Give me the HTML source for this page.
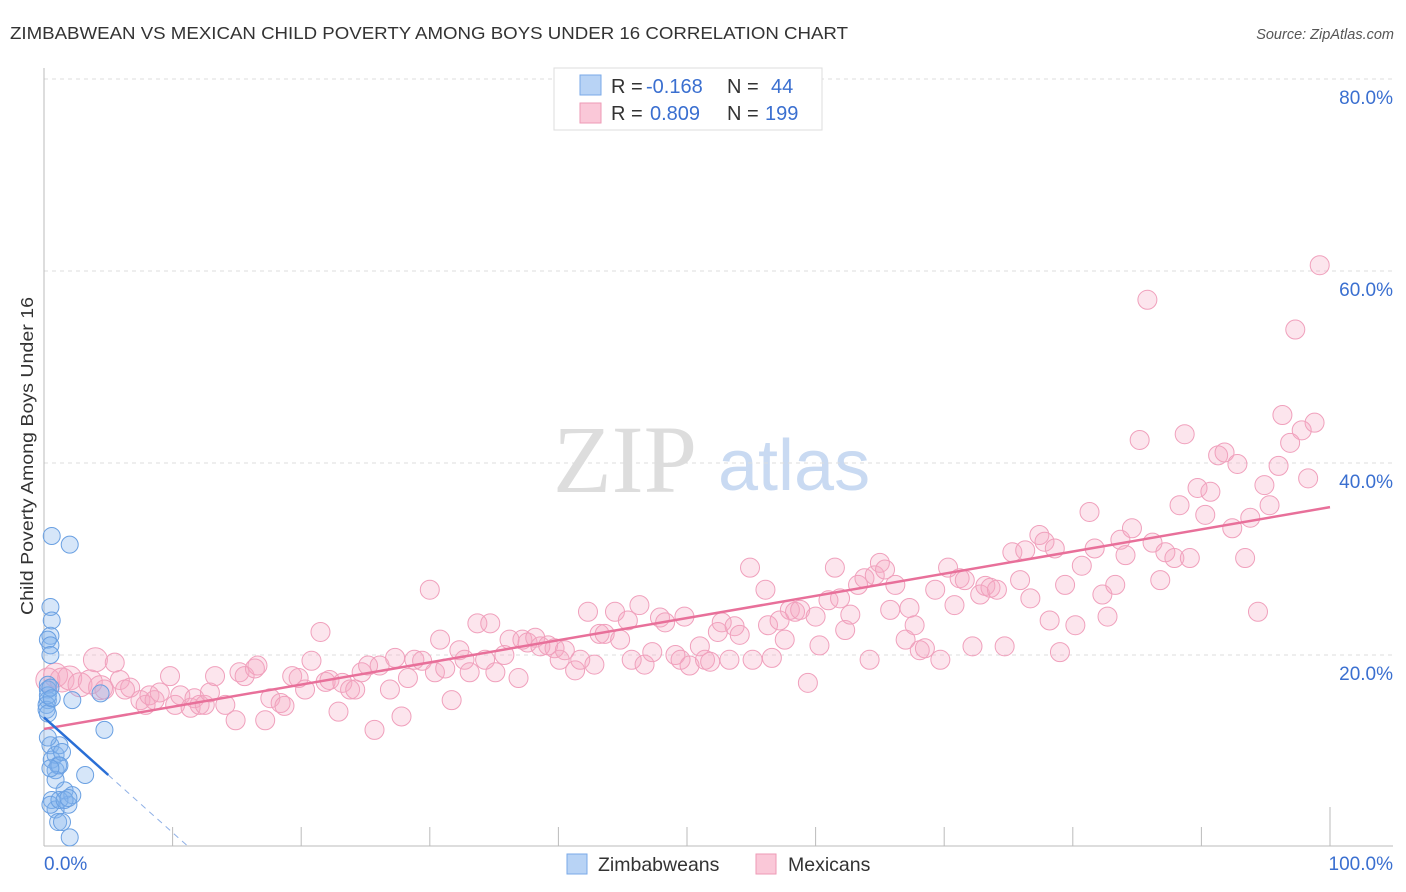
<!DOCTYPE html>
<html><head><meta charset="utf-8"><style>
body{margin:0;background:#fff;font-family:"Liberation Sans",sans-serif}
svg{display:block}
</style></head><body>
<svg id="chart" width="1406" height="892" viewBox="0 0 1406 892" font-family="Liberation Sans, sans-serif">
<text x="10" y="39" font-size="17.5" fill="#333" textLength="838" lengthAdjust="spacingAndGlyphs">ZIMBABWEAN VS MEXICAN CHILD POVERTY AMONG BOYS UNDER 16 CORRELATION CHART</text>
<text x="1394" y="39" font-size="14.5" fill="#555" font-style="italic" text-anchor="end">Source: ZipAtlas.com</text>
<g>
<text x="553" y="492" font-size="96" font-family="Liberation Serif, serif" fill="#ddd">ZIP</text>
<text x="718" y="490" font-size="72" fill="#c9daf2">atlas</text>
</g>
<g id="grid"></g>
<g id="axes"></g>
<text transform="translate(33,456) rotate(-90)" font-size="17.5" fill="#333" text-anchor="middle" textLength="318" lengthAdjust="spacingAndGlyphs">Child Poverty Among Boys Under 16</text>
<g id="marks"></g>
<g>
<rect x="554" y="68" width="268" height="62" fill="#fff" stroke="#ddd"/>
<rect x="580" y="75" width="21" height="20" fill="#b8d3f5" stroke="#7aaae8"/>
<rect x="580" y="103" width="21" height="20" fill="#fac8d8" stroke="#ee9ab6"/>
<text x="611" y="93" font-size="20" fill="#333">R = <tspan x="646" fill="#3a6fd0">-0.168</tspan><tspan x="727">N = </tspan><tspan x="771" fill="#3a6fd0">44</tspan></text>
<text x="611" y="120" font-size="20" fill="#333">R = <tspan x="650" fill="#3a6fd0">0.809</tspan><tspan x="727">N = </tspan><tspan x="765" fill="#3a6fd0">199</tspan></text>
</g>
<g>
<rect x="567" y="854" width="20" height="20" fill="#b8d3f5" stroke="#7aaae8"/>
<text x="598" y="871" font-size="19.5" fill="#333">Zimbabweans</text>
<rect x="756" y="854" width="20" height="20" fill="#fac8d8" stroke="#ee9ab6"/>
<text x="788" y="871" font-size="19.5" fill="#333">Mexicans</text>
</g>
</svg>
<script>
const yTicks=[20,40,60,80];
const yTickLabels=["20.0%","40.0%","60.0%","80.0%"];
const xTicks=[10,20,30,40,50,60,70,80,90,100];
const xEndLabels=["0.0%","100.0%"];
const pinkX=[0.3,0.9,1.4,2.0,2.8,3.6,4.0,4.4,4.7,5.5,5.9,6.3,6.7,7.5,7.9,8.2,8.6,9.0,9.8,10.2,10.6,11.4,11.7,12.1,12.5,12.9,13.3,14.1,14.9,15.2,15.6,16.4,16.6,17.2,17.6,18.4,18.7,19.3,19.8,20.3,20.8,21.5,21.9,22.2,22.9,23.2,23.8,24.2,24.7,25.2,25.7,26.1,26.9,27.3,27.8,28.3,28.8,29.4,30.0,30.4,30.8,31.2,31.7,32.3,32.7,33.1,33.7,34.3,34.7,35.1,35.8,36.2,36.9,37.2,37.6,38.2,38.6,39.2,39.7,40.1,40.5,41.3,41.7,42.3,42.8,43.2,43.6,44.4,44.8,45.4,45.7,46.3,46.7,47.3,47.9,48.3,49.1,49.5,49.8,50.2,51.0,51.4,51.8,52.4,52.7,53.3,53.7,54.1,54.9,55.1,56.1,56.3,56.6,57.2,57.6,58.0,58.4,58.8,59.4,60.0,60.3,61.0,61.5,61.9,62.3,62.7,63.3,63.8,64.2,64.6,65.0,65.4,65.8,66.2,67.0,67.3,67.7,68.1,68.5,69.3,69.7,70.3,70.8,71.2,71.6,72.2,72.8,73.2,73.6,74.1,74.7,75.3,75.9,76.3,76.7,77.4,77.8,78.2,78.6,79.0,79.4,80.2,80.7,81.3,81.7,82.3,82.7,83.3,83.7,84.1,84.6,85.2,85.8,86.2,86.8,87.2,87.9,88.3,88.7,89.1,89.7,90.3,90.7,91.3,91.8,92.4,92.8,93.4,93.8,94.4,94.9,95.3,96.0,96.3,96.9,97.3,97.8,98.3,98.8,99.2];
const pinkY=[17.4,17.9,17.4,17.6,16.9,17.2,19.5,16.6,16.4,19.2,17.4,16.4,16.6,15.3,14.8,15.8,15.3,16.1,17.8,14.8,15.8,14.5,15.5,14.8,14.8,16.1,17.8,14.8,13.2,18.2,17.8,18.6,18.9,13.2,15.5,15.0,14.7,17.8,17.6,16.4,19.4,22.4,17.2,17.4,14.1,17.1,16.4,16.4,18.2,18.9,12.2,18.9,16.4,19.7,13.6,17.6,19.5,19.4,26.8,18.2,21.6,18.6,15.3,20.5,19.5,18.2,23.3,19.5,23.3,18.2,20.0,21.6,17.6,21.6,21.3,21.8,20.9,21.0,20.7,19.5,20.5,18.4,19.5,24.5,19.0,22.2,22.2,24.5,21.6,23.6,19.5,25.2,19.0,20.3,23.9,23.4,20.0,19.5,24.0,18.9,20.9,19.5,19.3,22.4,23.4,19.5,23.0,22.1,29.1,19.5,26.8,23.1,19.7,23.6,21.6,24.7,24.5,24.7,17.1,24.0,21.0,25.7,29.1,25.9,22.6,24.2,27.3,28.0,19.5,28.3,29.6,28.9,24.7,27.3,21.6,24.9,23.1,20.5,20.7,26.8,19.5,29.1,25.2,28.0,27.8,20.9,26.3,27.2,27.0,26.8,20.9,30.7,27.8,30.9,25.9,32.5,31.8,23.6,31.1,20.3,27.3,23.1,29.3,34.9,31.1,26.3,24.0,27.3,32.0,30.4,33.2,42.4,57.0,31.7,27.8,30.7,30.1,35.6,43.0,30.1,37.4,34.6,37.0,40.8,41.1,33.2,39.9,30.1,34.3,24.5,37.7,35.6,39.7,45.0,42.1,53.9,43.4,38.4,44.2,60.6];
const blueX=[0.3,0.3,0.3,0.2,0.2,0.3,0.5,0.5,0.6,0.6,2.0,0.3,0.5,0.5,0.5,0.6,0.9,0.9,1.2,1.1,1.4,1.6,1.9,2.2,0.6,0.9,1.1,1.4,2.0,3.2,2.2,4.4,4.7,0.3,0.5,0.6,1.2,0.9,0.5,1.2,1.6,1.9,0.5,0.3];
const blueY=[16.9,16.4,15.3,14.8,14.3,13.9,22.0,25.0,23.6,32.4,31.5,21.6,21.0,20.0,10.6,9.1,8.0,9.6,10.6,8.5,9.9,5.9,4.4,5.4,4.9,3.9,2.6,2.6,1.0,7.5,15.3,16.0,12.2,15.8,16.6,15.5,8.5,7.0,4.4,4.9,4.9,5.1,8.2,11.4];
const pinkTrend=[12.3,35.4];
const blueTrend=[13.5,-1.2];
const blueSolidEnd=[5.0];
const blueDashEnd=[11.2];

const X0=44,X1=1330,Y0=847,YPER=9.6;
const sx=v=>X0+(X1-X0)*v/100;
const sy=v=>Y0-v*YPER;
const NS="http://www.w3.org/2000/svg";
function mk(tag,parent,attrs){const e=document.createElementNS(NS,tag);for(const k in attrs)e.setAttribute(k,attrs[k]);parent.appendChild(e);return e;}
const grid=document.getElementById('grid'),axes=document.getElementById('axes'),marks=document.getElementById('marks');
yTicks.forEach((t,i)=>{
  const l=mk('line',grid,{x1:44,x2:1393,y1:sy(t),y2:sy(t),stroke:'#ddd','stroke-dasharray':'4,4'});
  
  
  const tx=mk('text',axes,{x:1393,y:sy(t)+25,'font-size':19,fill:'#3a6fd0','text-anchor':'end'});
  tx.textContent=yTickLabels[i];
  
  
});
mk('line',axes,{x1:44,x2:44,y1:68,y2:846,stroke:'#bbb'});
mk('line',axes,{x1:44,x2:1393,y1:846,y2:846,stroke:'#bbb'});
xTicks.forEach(t=>{
  const l=mk('line',axes,{x1:sx(t),x2:sx(t),y1:t===100?807:827,y2:846,stroke:'#bbb'});
  
  
});
const xl0=mk('text',axes,{x:44,y:870,'font-size':19,fill:'#3a6fd0'});xl0.textContent=xEndLabels[0];


const xl1=mk('text',axes,{x:1393,y:870,'font-size':19,fill:'#3a6fd0','text-anchor':'end'});xl1.textContent=xEndLabels[1];



const pg=mk('g',marks,{});


pinkX.forEach((x,i)=>{
  const r=i<8?12:9.5;
  const c=mk('circle',pg,{cx:sx(x),cy:sy(pinkY[i]),r:r,fill:'rgba(246,170,196,0.3)',stroke:'#f0a0bc','stroke-width':1});
  
  
});
const bg=mk('g',marks,{});


blueX.forEach((x,i)=>{
  const c=mk('circle',bg,{cx:sx(x),cy:sy(blueY[i]),r:8.5,fill:'rgba(130,178,238,0.33)',stroke:'#6aa0e2','stroke-width':1});
  
  
});
const pl=mk('line',marks,{x1:sx(0),y1:sy(pinkTrend[0]),x2:sx(100),y2:sy(pinkTrend[1]),stroke:'#e8709a','stroke-width':2.5});


const bv=x=>blueTrend[0]+blueTrend[1]*x;
const bl=mk('line',marks,{x1:sx(0),y1:sy(bv(0)),x2:sx(blueSolidEnd[0]),y2:sy(bv(blueSolidEnd[0])),stroke:'#2a6fd6','stroke-width':2.5});


const bd=mk('line',marks,{x1:sx(blueSolidEnd[0]),y1:sy(bv(blueSolidEnd[0])),x2:sx(blueDashEnd[0]),y2:sy(bv(blueDashEnd[0])),stroke:'#8fb0e6','stroke-width':1,'stroke-dasharray':'6,5'});


</script>
</body></html>
